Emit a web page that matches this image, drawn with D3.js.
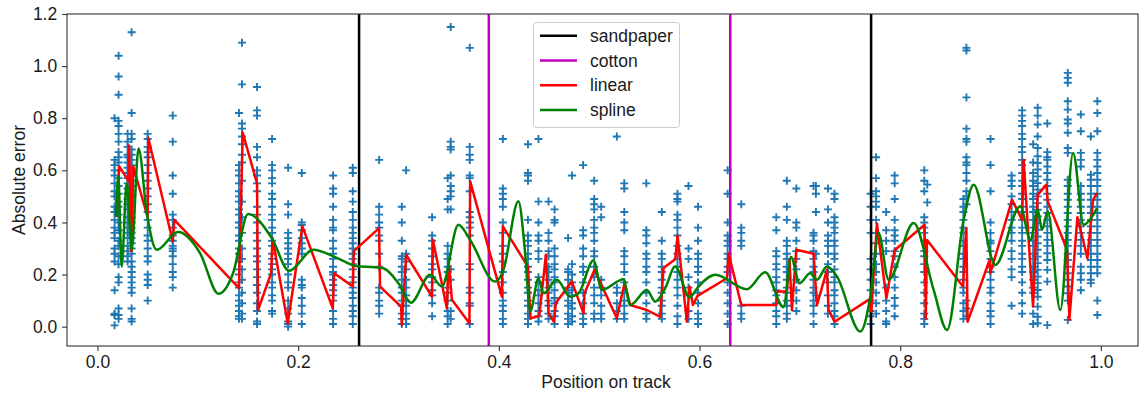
<!DOCTYPE html>
<html><head><meta charset="utf-8">
<script src="https://cdn.jsdelivr.net/npm/d3@7"></script>
<style>body{margin:0;background:#fff}svg{display:block}</style>
</head><body>
<svg id="chart" width="1139" height="394"></svg>
<script>
// ---------- data ----------
const xTicks = [0.0, 0.2, 0.4, 0.6, 0.8, 1.0];
const yTicks = [0.0, 0.2, 0.4, 0.6, 0.8, 1.0, 1.2];
const sandpaperX = [0.2607, 0.771];
const cottonX = [0.390, 0.6306];
const legendLabels = ["sandpaper", "cotton", "linear", "spline"];

const colX = [0.017,0.021,0.030,0.034,0.050,0.075,0.141,0.144,0.159,0.174,0.190,0.2036,0.2348,0.2544,
  0.2807,0.3033,0.3076,0.3335,0.349,0.352,0.371,0.404,
  0.429,0.4395,0.4495,0.4555,0.469,0.473,0.484,0.495,0.502,0.5176,0.525,0.547,0.5624,
  0.578,0.589,0.5985,0.628,0.6416,0.6765,0.687,0.6965,
  0.7136,0.716,0.728,0.7345,0.7705,0.776,0.786,0.7945,0.824,0.827,
  0.863,0.866,0.89,0.911,0.9215,0.9325,0.937,0.9466,0.967,0.98,0.99,0.9965];
const colErrors = [
  [0.80,0.64,0.62,0.60,0.58,0.55,0.52,0.50,0.46,0.44,0.41,0.38,0.36,0.34,0.30,0.28,0.25,0.14,0.05,0.045,0.005],
  [1.04,0.96,0.89,0.79,0.77,0.74,0.71,0.67,0.65,0.63,0.60,0.57,0.54,0.51,0.48,0.46,0.43,0.40,0.37,0.33,0.31,0.27,0.24,0.19,0.17,0.07,0.045,0.03],
  [0.74,0.71,0.69,0.66,0.65,0.63,0.61,0.59,0.57,0.55,0.53,0.51,0.49,0.47,0.45,0.42,0.40,0.38,0.36,0.34,0.31,0.29,0.27,0.25],
  [1.13,0.82,0.74,0.72,0.68,0.66,0.64,0.62,0.60,0.58,0.56,0.54,0.52,0.50,0.48,0.46,0.44,0.42,0.40,0.38,0.36,0.34,0.32,0.30,0.28,0.25,0.23,0.21,0.19,0.17,0.15,0.13,0.07,0.03,0.02],
  [0.74,0.72,0.69,0.67,0.65,0.62,0.59,0.56,0.53,0.50,0.47,0.44,0.41,0.38,0.35,0.33,0.30,0.27,0.25,0.20,0.18,0.16,0.10],
  [0.81,0.71,0.58,0.51,0.43,0.41,0.38,0.35,0.33,0.31,0.30,0.29,0.27,0.24,0.21,0.19,0.15],
  [0.82,0.62,0.60,0.58,0.55,0.52,0.50,0.48,0.45,0.43,0.40,0.38,0.35,0.33,0.30,0.28,0.25,0.22,0.20,0.17,0.15,0.12,0.10,0.08,0.06,0.04,0.03],
  [1.09,0.93,0.78,0.76,0.73,0.70,0.66,0.63,0.56,0.48,0.42,0.36,0.30,0.26,0.22,0.18,0.13,0.09,0.05,0.03],
  [0.92,0.83,0.81,0.69,0.65,0.60,0.58,0.55,0.52,0.46,0.43,0.40,0.36,0.33,0.30,0.27,0.25,0.22,0.19,0.16,0.13,0.09,0.06,0.02,0.01],
  [0.72,0.62,0.60,0.57,0.55,0.51,0.49,0.46,0.43,0.41,0.38,0.36,0.33,0.31,0.28,0.26,0.24,0.22,0.20,0.17,0.15,0.12,0.10,0.06,0.05],
  [0.61,0.47,0.43,0.36,0.34,0.32,0.30,0.28,0.26,0.24,0.20,0.17,0.15,0.10,0.07,0.05,0.02,0.01,0.0],
  [0.59,0.40,0.39,0.37,0.34,0.32,0.30,0.28,0.18,0.16,0.15,0.11,0.08,0.05,0.01],
  [0.58,0.53,0.51,0.46,0.41,0.38,0.37,0.33,0.30,0.28,0.26,0.23,0.21,0.20,0.18,0.16,0.14,0.12,0.10,0.06,0.03,0.01],
  [0.61,0.59,0.52,0.48,0.44,0.41,0.38,0.36,0.34,0.32,0.30,0.28,0.26,0.24,0.22,0.19,0.17,0.15,0.13,0.11,0.08,0.06,0.04,0.01],
  [0.64,0.46,0.43,0.40,0.38,0.35,0.33,0.28,0.23,0.15,0.13,0.10,0.08,0.05],
  [0.46,0.40,0.33,0.27,0.26,0.23,0.21,0.18,0.15,0.13,0.10,0.08,0.05,0.03,0.01],
  [0.60,0.28,0.25,0.22,0.18,0.15,0.12,0.10,0.08,0.05,0.03,0.01],
  [0.42,0.35,0.33,0.30,0.27,0.24,0.22,0.19,0.17,0.14,0.12,0.09,0.04],
  [0.57,0.49,0.45,0.31,0.28,0.26,0.23,0.21,0.18,0.15,0.13,0.10,0.06,0.04,0.01],
  [1.15,0.71,0.69,0.68,0.58,0.54,0.52,0.50,0.45,0.22,0.18,0.06,0.03],
  [1.07,0.69,0.66,0.64,0.58,0.57,0.52,0.44,0.42,0.40,0.38,0.35,0.24,0.22,0.15,0.13,0.09,0.08,0.01],
  [0.72,0.53,0.51,0.49,0.46,0.40,0.36,0.31,0.28,0.25,0.21,0.17,0.13,0.10,0.08,0.06,0.03,0.01],
  [0.70,0.59,0.58,0.56,0.41,0.35,0.33,0.31,0.28,0.26,0.23,0.21,0.18,0.15,0.13,0.10,0.08,0.05,0.03,0.01],
  [0.72,0.48,0.40,0.35,0.33,0.29,0.26,0.19,0.17,0.14,0.12,0.09,0.06,0.04,0.02],
  [0.48,0.36,0.33,0.29,0.27,0.23,0.21,0.18,0.15,0.13,0.10,0.08,0.05,0.03],
  [0.45,0.41,0.40,0.30,0.27,0.24,0.22,0.19,0.17,0.14,0.11,0.09,0.06,0.04,0.01],
  [0.34,0.22,0.21,0.18,0.15,0.13,0.10,0.08,0.05,0.03,0.01],
  [0.58,0.24,0.20,0.17,0.14,0.12,0.09,0.07,0.04,0.02],
  [0.62,0.37,0.35,0.30,0.27,0.23,0.21,0.17,0.13,0.09,0.05,0.03,0.01],
  [0.56,0.49,0.47,0.45,0.41,0.38,0.36,0.33,0.29,0.27,0.23,0.19,0.15,0.12,0.09,0.05,0.03],
  [0.46,0.42,0.18,0.15,0.12,0.08,0.05,0.03],
  [0.73,0.15,0.13,0.09,0.06,0.03],
  [0.55,0.53,0.44,0.40,0.37,0.29,0.27,0.24,0.21,0.17,0.13,0.10,0.08,0.05,0.03],
  [0.55,0.37,0.35,0.32,0.28,0.26,0.23,0.21,0.17,0.13,0.09,0.05,0.03],
  [0.44,0.33,0.28,0.26,0.23,0.21,0.18,0.15,0.13,0.10,0.08,0.05,0.03],
  [0.51,0.49,0.48,0.43,0.41,0.38,0.35,0.31,0.28,0.26,0.23,0.21,0.18,0.15,0.12,0.08,0.04,0.01],
  [0.54,0.30,0.26,0.19,0.15,0.12,0.06,0.03],
  [0.46,0.38,0.33,0.28,0.26,0.23,0.21,0.17,0.13,0.09,0.05,0.03,0.01],
  [0.60,0.51,0.40,0.35,0.33,0.31,0.28,0.26,0.23,0.21,0.17,0.13,0.09,0.05,0.01],
  [0.47,0.38,0.36,0.33,0.31,0.08,0.05,0.03],
  [0.42,0.37,0.29,0.27,0.24,0.22,0.19,0.17,0.14,0.12,0.09,0.06,0.04,0.01],
  [0.56,0.46,0.41,0.33,0.31,0.28,0.26,0.23,0.21,0.18,0.15,0.13,0.10,0.08,0.05,0.03],
  [0.53,0.40,0.38,0.33,0.29,0.26,0.22,0.18,0.14,0.10,0.06],
  [0.54,0.36,0.35,0.33,0.29,0.26,0.23,0.21,0.18,0.15,0.13,0.10,0.08,0.05,0.01],
  [0.54,0.51,0.44,0.28,0.12],
  [0.53,0.45,0.40,0.35,0.33,0.31,0.28,0.24,0.21,0.17,0.12,0.08,0.05],
  [0.51,0.49,0.42,0.40,0.38,0.36,0.33,0.31,0.28,0.26,0.22,0.19,0.17,0.14,0.12,0.09,0.06,0.04,0.01],
  [0.51,0.46,0.41,0.36,0.26,0.22,0.18,0.14,0.10,0.06,0.04,0.01],
  [0.65,0.57,0.52,0.50,0.48,0.46,0.41,0.36,0.32,0.28,0.24,0.21,0.17,0.13,0.09,0.05],
  [0.44,0.37,0.33,0.29,0.15,0.10,0.06,0.02,0.01],
  [0.58,0.55,0.49,0.41,0.37,0.35,0.33,0.29,0.27,0.23,0.19,0.15,0.11,0.08,0.04],
  [0.60,0.56,0.52,0.42,0.40,0.38,0.36,0.33,0.29,0.27,0.24,0.21,0.17,0.13,0.09,0.05,0.03,0.01],
  [0.545,0.477],
  [0.49,0.46,0.44,0.41,0.38,0.36,0.33,0.31,0.28,0.26,0.23,0.21,0.18,0.15,0.13,0.09,0.06,0.03],
  [1.07,1.06,0.88,0.76,0.72,0.71,0.65,0.63,0.62,0.59,0.56,0.52,0.50,0.47,0.10,0.07,0.04],
  [0.72,0.62,0.52,0.40,0.36,0.33,0.32,0.29,0.26,0.23,0.21,0.18,0.15,0.13,0.09,0.06,0.04,0.01],
  [0.58,0.56,0.54,0.50,0.47,0.44,0.41,0.38,0.36,0.33,0.29,0.26,0.22,0.19,0.08],
  [0.83,0.81,0.79,0.77,0.74,0.72,0.69,0.67,0.64,0.62,0.59,0.56,0.54,0.51,0.49,0.46,0.44,0.41,0.38,0.36,0.33,0.31,0.28,0.26,0.23,0.21,0.17,0.13,0.09,0.05],
  [0.70,0.63,0.59,0.56,0.54,0.51,0.49,0.46,0.44,0.41,0.38,0.36,0.33,0.31,0.28,0.26,0.23,0.21,0.18,0.15,0.13,0.05,0.01],
  [0.84,0.81,0.776,0.73,0.686,0.654,0.628,0.603,0.577,0.551,0.526,0.50,0.474,0.449,0.423,0.397,0.372,0.346,0.32,0.295,0.269,0.244,0.218,0.192,0.167,0.141,0.115,0.077,0.038,0.013],
  [0.78,0.67,0.65,0.64,0.615,0.59,0.564,0.54,0.51,0.487,0.46,0.436,0.41,0.385,0.36,0.333,0.31,0.282,0.256,0.218,0.173,0.006],
  [0.974,0.955,0.936,0.865,0.833,0.795,0.78,0.744,0.686,0.667,0.564,0.54,0.51,0.487,0.46,0.436,0.41,0.385,0.36,0.333,0.31,0.28,0.256,0.23,0.205,0.18,0.154,0.128,0.10,0.026],
  [0.814,0.75,0.667,0.64,0.615,0.54,0.51,0.487,0.46,0.436,0.41,0.385,0.36,0.333,0.31,0.28,0.23,0.205,0.18,0.14],
  [0.73,0.583,0.564,0.54,0.51,0.487,0.46,0.436,0.41,0.385,0.36,0.333,0.31,0.28,0.256,0.23,0.205,0.18,0.167],
  [0.865,0.82,0.75,0.667,0.64,0.615,0.59,0.564,0.54,0.51,0.487,0.46,0.436,0.41,0.385,0.36,0.333,0.31,0.28,0.256,0.23,0.205,0.10,0.045]
];

const linearX = [0.0191,0.0217,0.0307,0.0314,0.0339,0.0356,0.0500,0.0506,0.0750,0.0766,0.1410,0.1447,0.1590,0.1600,0.1730,0.1744,0.1896,0.2042,0.2345,0.2358,0.2545,0.2555,0.2806,0.2816,0.3026,0.3033,0.3076,0.3333,0.3343,0.3482,0.3498,0.3532,0.3707,0.3714,0.4030,0.4040,0.4291,0.4314,0.4403,0.4469,0.4495,0.4549,0.4569,0.4728,0.4844,0.4854,0.4954,0.5176,0.5252,0.5309,0.5475,0.5608,0.5641,0.5758,0.5781,0.5874,0.5900,0.5934,0.5980,0.6273,0.6289,0.6416,0.6765,0.6772,0.6871,0.6897,0.6921,0.6964,0.7137,0.7170,0.7270,0.7286,0.7346,0.7685,0.7712,0.7768,0.7862,0.7944,0.8243,0.8255,0.8267,0.8626,0.8659,0.8672,0.8891,0.8898,0.9115,0.9215,0.9230,0.9280,0.9324,0.9370,0.9457,0.9470,0.9663,0.9686,0.9766,0.9866,0.9922,0.9962];
const linearY = [0.42,0.615,0.56,0.695,0.29,0.615,0.42,0.725,0.327,0.41,0.148,0.745,0.55,0.064,0.205,0.34,0.013,0.385,0.07,0.205,0.154,0.29,0.378,0.154,0.077,0.006,0.276,0.115,0.333,0.07,0.256,0.103,0.013,0.558,0.115,0.385,0.23,0.032,0.041,0.276,0.051,0.019,0.092,0.173,0.051,0.128,0.218,0.032,0.167,0.083,0.064,0.038,0.225,0.259,0.349,0.019,0.154,0.083,0.118,0.186,0.282,0.083,0.083,0.135,0.135,0.256,0.064,0.295,0.28,0.083,0.218,0.064,0.019,0.103,0.058,0.395,0.109,0.293,0.391,0.03,0.333,0.154,0.378,0.019,0.256,0.205,0.487,0.41,0.641,0.333,0.077,0.506,0.545,0.481,0.295,0.026,0.42,0.263,0.487,0.513];

const splineX = [0.0184,0.0207,0.0241,0.0291,0.0341,0.0409,0.0491,0.0590,0.0803,0.1022,0.1206,0.1351,0.1501,0.1737,0.1909,0.2152,0.2368,0.2584,0.2767,0.2849,0.2999,0.3123,0.3315,0.3432,0.3597,0.3714,0.3963,0.4046,0.4195,0.4262,0.4312,0.4395,0.4445,0.4578,0.4711,0.4794,0.4943,0.5027,0.5242,0.5309,0.5476,0.5558,0.5658,0.5758,0.5900,0.5990,0.6156,0.6472,0.6655,0.6838,0.6911,0.6997,0.7104,0.7170,0.7270,0.7370,0.7602,0.7702,0.7785,0.7884,0.8134,0.8333,0.8467,0.8632,0.8732,0.8948,0.9197,0.9297,0.9370,0.9414,0.9470,0.9596,0.9723,0.9829,0.9895,0.9962];
const splineY = [0.423,0.577,0.23,0.55,0.295,0.684,0.436,0.295,0.363,0.282,0.126,0.205,0.432,0.34,0.215,0.295,0.267,0.232,0.228,0.224,0.167,0.092,0.199,0.154,0.391,0.333,0.173,0.218,0.481,0.282,0.058,0.186,0.128,0.18,0.115,0.128,0.254,0.141,0.182,0.083,0.141,0.096,0.148,0.231,0.113,0.154,0.199,0.144,0.209,0.075,0.267,0.167,0.205,0.18,0.231,0.192,-0.019,0.115,0.359,0.18,0.398,0.141,-0.013,0.41,0.545,0.237,0.462,0.333,0.449,0.372,0.442,0.064,0.667,0.391,0.413,0.455];

// ---------- chart ----------
const svg = d3.select("#chart");
const FONT = "'Liberation Sans', Arial, sans-serif";
const FS = "17.5px";
const pLeft = 67, pRight = 1138, pTop = 14, pBottom = 346;
const x = d3.scaleLinear().domain([-0.0304, 1.037]).range([pLeft, pRight]);
const y = d3.scaleLinear().domain([-0.0742, 1.2]).range([pBottom, pTop]);

svg.append("rect").attr("width", 1139).attr("height", 394).attr("fill", "#fff");

svg.append("defs").append("clipPath").attr("id", "clip")
  .append("rect").attr("x", pLeft).attr("y", pTop).attr("width", pRight - pLeft).attr("height", pBottom - pTop);

const plot = svg.append("g").attr("clip-path", "url(#clip)");

// scatter
const pts = [];
colX.forEach((cx, i) => colErrors[i].forEach(v => pts.push([cx, v])));
const s = 4;
plot.append("g").selectAll("path").data(pts).join("path")
  .attr("d", d => {
    const px = x(d[0]), py = y(d[1]);
    return `M${px - s},${py}H${px + s}M${px},${py - s}V${py + s}`;
  })
  .attr("stroke", "#1f77b4").attr("stroke-width", 1.9).attr("fill", "none");

// vertical lines
plot.append("g").selectAll("line").data(sandpaperX).join("line")
  .attr("x1", d => x(d)).attr("x2", d => x(d)).attr("y1", pTop).attr("y2", pBottom)
  .attr("stroke", "#000").attr("stroke-width", 2.5);
plot.append("g").selectAll("line").data(cottonX).join("line")
  .attr("x1", d => x(d)).attr("x2", d => x(d)).attr("y1", pTop).attr("y2", pBottom)
  .attr("stroke", "#bf00bf").attr("stroke-width", 2.5);

// linear
const linPts = linearX.map((v, i) => [v, linearY[i]]);
plot.append("path").datum(linPts)
  .attr("d", d3.line().x(d => x(d[0])).y(d => y(d[1])))
  .attr("fill", "none").attr("stroke", "#ff0000").attr("stroke-width", 2.5).attr("stroke-linejoin", "round");

// spline
const splPts = splineX.map((v, i) => [v, splineY[i]]);
plot.append("path").datum(splPts)
  .attr("d", d3.line().curve(d3.curveMonotoneX).x(d => x(d[0])).y(d => y(d[1])))
  .attr("fill", "none").attr("stroke", "#008000").attr("stroke-width", 2.5);

// axes
const xAxis = svg.append("g").attr("transform", `translate(0,${pBottom})`)
  .call(d3.axisBottom(x).tickValues(xTicks).tickFormat(d3.format(".1f")).tickSize(4.9).tickPadding(4.6));
const yAxis = svg.append("g").attr("transform", `translate(${pLeft},0)`)
  .call(d3.axisLeft(y).tickValues(yTicks).tickFormat(d3.format(".1f")).tickSize(4.9).tickPadding(4.9));
[xAxis, yAxis].forEach(g => {
  g.select(".domain").remove();
  g.selectAll(".tick line").attr("stroke", "#333").attr("stroke-width", 1.1);
  g.selectAll(".tick text").attr("font-family", FONT).attr("font-size", FS).attr("fill", "#1a1a1a");
});

// frame
svg.append("rect").attr("x", pLeft).attr("y", pTop).attr("width", pRight - pLeft).attr("height", pBottom - pTop)
  .attr("fill", "none").attr("stroke", "#333").attr("stroke-width", 1.1);

// labels
svg.append("text").attr("x", 606).attr("y", 388).attr("text-anchor", "middle")
  .attr("font-family", FONT).attr("font-size", FS).attr("fill", "#1a1a1a").text("Position on track");
svg.append("text").attr("transform", "translate(25,180) rotate(-90)").attr("text-anchor", "middle")
  .attr("font-family", FONT).attr("font-size", FS).attr("fill", "#1a1a1a").text("Absolute error");

// legend
const lg = svg.append("g");
lg.append("rect").attr("x", 533.5).attr("y", 22.5).attr("width", 146).attr("height", 105).attr("rx", 3)
  .attr("fill", "#fff").attr("fill-opacity", 0.8).attr("stroke", "#cccccc").attr("stroke-width", 1);
const lgColors = ["#000", "#bf00bf", "#ff0000", "#008000"];
legendLabels.forEach((lab, i) => {
  const cy = 35.7 + i * 24.8;
  lg.append("line").attr("x1", 540).attr("x2", 577).attr("y1", cy).attr("y2", cy)
    .attr("stroke", lgColors[i]).attr("stroke-width", 2.5);
  lg.append("text").attr("x", 590).attr("y", cy + 6).attr("font-family", FONT).attr("font-size", FS)
    .attr("fill", "#1a1a1a").text(lab);
});
</script>
</body></html>
